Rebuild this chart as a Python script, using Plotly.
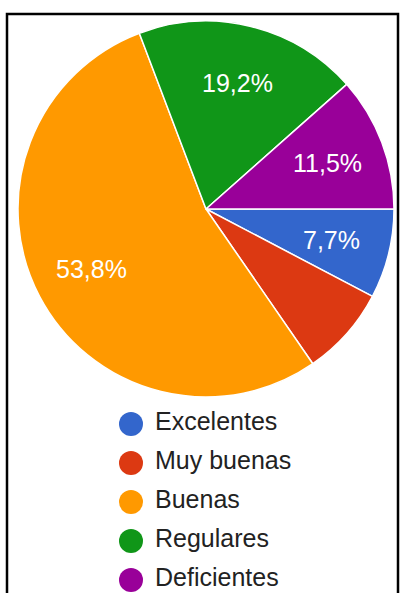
import math
import plotly.graph_objects as go

categories = ["Excelentes", "Muy buenas", "Buenas", "Regulares", "Deficientes"]
counts = [2, 2, 14, 5, 3]
colors = ["#3366CC", "#DC3912", "#FF9900", "#109618", "#990099"]
show_label = [True, False, True, True, True]

FONT = "Liberation Sans, Arial, sans-serif"
W, H = 401, 593
# pie geometry (pixels)
CX, CY, R = 206, 209, 188
LABEL_R = 0.69
START_DEG = 90  # clockwise from 12 o'clock

total = sum(counts)
fig = go.Figure()
fig.add_trace(go.Pie(
    labels=categories, values=counts, sort=False, direction="clockwise", rotation=START_DEG,
    marker=dict(colors=colors, line=dict(color="white", width=1.5)),
    textinfo="none", showlegend=False, hoverinfo="label+percent",
    domain=dict(x=[(CX - R) / W, (CX + R) / W], y=[1 - (CY + R) / H, 1 - (CY - R) / H]),
))

# percentage labels placed along each slice bisector
annotations = []
cum = 0
for c, s in zip(counts, show_label):
    mid = START_DEG + (cum + c / 2) / total * 360
    cum += c
    if not s:
        continue
    th = math.radians(mid)
    px = CX + LABEL_R * R * math.sin(th)
    py = CY - LABEL_R * R * math.cos(th)
    annotations.append(dict(
        x=px / W, y=1 - py / H, xref="paper", yref="paper", showarrow=False,
        text=f"{c / total * 100:.1f}%".replace(".", ","),
        font=dict(color="white", size=25, family=FONT),
        xanchor="center", yanchor="middle",
    ))

# legend drawn as circle markers + labels
fig.add_trace(go.Scatter(
    x=[0] * len(categories), y=categories, mode="markers",
    marker=dict(symbol="circle", size=24, color=colors, line=dict(width=0)),
    showlegend=False, hoverinfo="skip", cliponaxis=False,
))
fig.add_trace(go.Scatter(
    x=[1] * len(categories), y=categories, mode="text", text=categories,
    textposition="middle right", textfont=dict(size=25, color="#222222", family=FONT),
    showlegend=False, hoverinfo="skip", cliponaxis=False,
))

ROW0, ROWSTEP = 424, 39
XM, XSTEP = 131, 24
fig.update_layout(
    width=W, height=H, margin=dict(l=0, r=0, t=0, b=0),
    paper_bgcolor="white", plot_bgcolor="rgba(0,0,0,0)",
    xaxis=dict(visible=False, range=[-XM / XSTEP, (W - XM) / XSTEP], domain=[0, 1], fixedrange=True),
    yaxis=dict(visible=False, type="category", categoryorder="array", categoryarray=categories,
               range=[(H - ROW0) / ROWSTEP, -ROW0 / ROWSTEP], domain=[0, 1], fixedrange=True),
    annotations=annotations,
    shapes=[dict(type="rect", xref="paper", yref="paper",
                 x0=7 / W, x1=398 / W, y0=-0.05, y1=1 - 14 / H,
                 line=dict(color="black", width=2.5), fillcolor="rgba(0,0,0,0)")],
)
fig.write_html("out.html")
